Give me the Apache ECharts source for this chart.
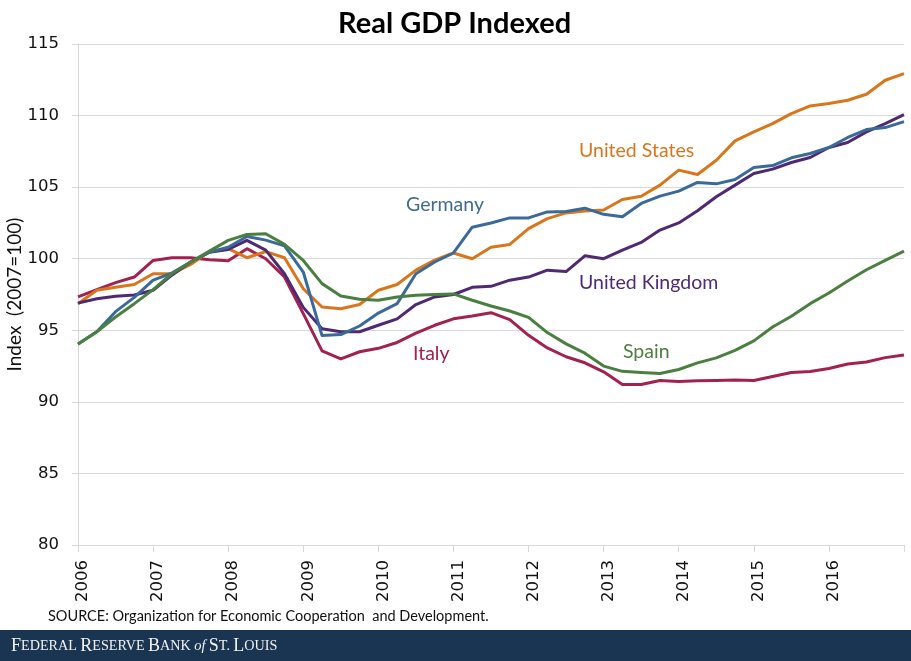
<!DOCTYPE html>
<html><head><meta charset="utf-8">
<style>html,body{margin:0;padding:0;background:#fff}#c{width:911px;height:661px}</style>
<script src="https://cdn.jsdelivr.net/npm/echarts@6/dist/echarts.min.js"></script>
</head><body><div id="c"></div>
<script>
const years=[2006,2007,2008,2009,2010,2011,2012,2013,2014,2015,2016,2017];
const categories=[];years.forEach(y=>{for(let q=1;q<=4;q++){if(y<2017||q===1)categories.push(y+'Q'+q);}});
const yTicks=[80,85,90,95,100,105,110,115];
const unitedStates=[96.86,97.8,98.0,98.2,98.95,98.95,99.6,100.5,100.7,100.07,100.5,100.07,97.9,96.63,96.5,96.8,97.8,98.2,99.2,99.9,100.4,100.0,100.8,101.0,102.1,102.8,103.2,103.33,103.4,104.14,104.36,105.14,106.19,105.88,106.88,108.23,108.86,109.44,110.14,110.67,110.84,111.07,111.49,112.47,112.93];
const germany=[94.05,94.9,96.3,97.3,98.5,99.0,99.77,100.45,100.8,101.55,101.3,100.9,99.07,94.63,94.7,95.3,96.2,96.86,98.95,99.77,100.4,102.2,102.5,102.85,102.85,103.27,103.3,103.53,103.1,102.93,103.86,104.37,104.72,105.33,105.23,105.53,106.37,106.51,107.05,107.35,107.77,108.47,109.02,109.16,109.58];
const unitedKingdom=[96.9,97.2,97.37,97.47,97.8,98.85,99.77,100.45,100.65,101.28,100.6,98.95,96.6,95.1,94.9,94.9,95.35,95.8,96.8,97.33,97.5,98.0,98.07,98.5,98.72,99.2,99.1,100.2,100.0,100.6,101.14,102.0,102.5,103.35,104.33,105.14,105.95,106.26,106.72,107.07,107.77,108.12,108.86,109.44,110.07];
const italy=[97.33,97.84,98.33,98.72,99.88,100.07,100.07,99.93,99.86,100.7,100.0,98.72,96.16,93.56,93.0,93.5,93.74,94.15,94.8,95.35,95.8,96.0,96.23,95.74,94.65,93.77,93.15,92.73,92.1,91.22,91.21,91.49,91.42,91.47,91.49,91.53,91.49,91.77,92.05,92.12,92.33,92.65,92.79,93.09,93.28];
const spain=[94.02,94.9,95.93,96.86,97.84,98.95,99.77,100.53,101.28,101.7,101.74,101.0,99.88,98.26,97.4,97.17,97.1,97.33,97.45,97.5,97.54,97.1,96.7,96.35,95.9,94.84,94.05,93.4,92.5,92.13,92.05,91.98,92.26,92.72,93.07,93.6,94.26,95.23,95.98,96.86,97.6,98.44,99.23,99.88,100.53];
const names=['Italy','United States','United Kingdom','Germany','Spain'];
const values=[italy,unitedStates,unitedKingdom,germany,spain];
const colors=['#a3214f','#d9761c','#4f2a73','#3a6a99','#4a7f3f'];
const labelFont='Lato, "Open Sans", sans-serif';
const annotations=[
 {t:'United States',x:579,y:151,c:'#d9761c'},
 {t:'Germany',x:406,y:205,c:'#3f6b96'},
 {t:'United Kingdom',x:579,y:283,c:'#4f2a73'},
 {t:'Italy',x:413,y:354,c:'#a3214f'},
 {t:'Spain',x:623,y:352,c:'#4a7f3f'}];
const chart=echarts.init(document.getElementById('c'),null,{renderer:'canvas'});
chart.setOption({
 animation:false,backgroundColor:'#fff',
 title:{text:'Real GDP Indexed',left:333,top:4,textStyle:{fontFamily:labelFont,fontSize:29,fontWeight:'bold',color:'#000'}},
 grid:{left:78,right:7,top:44,bottom:116,containLabel:false,outerBoundsMode:'none'},
 xAxis:{type:'category',boundaryGap:false,data:categories,
  axisLine:{lineStyle:{color:'#d9d9d9',width:1}},
  axisTick:{interval:3,length:7,lineStyle:{color:'#d9d9d9'}},
  axisLabel:{interval:3,rotate:90,margin:15,verticalAlign:'top',lineHeight:10,color:'#111',fontFamily:'"DejaVu Sans"',fontSize:16.5,
   formatter:v=>v.startsWith('2017')?'':v.slice(0,4)},
  splitLine:{show:false}},
 yAxis:{type:'value',min:yTicks[0],max:yTicks[yTicks.length-1],interval:5,
  name:'Index  (2007=100)',nameLocation:'middle',nameGap:54,nameRotate:90,nameMoveOverlap:false,
  nameTextStyle:{color:'#111',fontFamily:labelFont,fontSize:19},
  axisLine:{show:true,lineStyle:{color:'#d9d9d9'}},axisTick:{show:true,length:6,lineStyle:{color:'#d9d9d9'}},
  axisLabel:{margin:19,color:'#111',fontFamily:'"DejaVu Sans"',fontSize:16.5},
  splitLine:{show:true,lineStyle:{color:'#d9d9d9',width:1}}},
 series:names.map((n,i)=>({name:n,type:'line',data:values[i],showSymbol:false,smooth:false,
  lineStyle:{color:colors[i],width:3,join:'round'},itemStyle:{color:colors[i]}})),
 graphic:[
  {type:'rect',shape:{x:0,y:630,width:911,height:31},style:{fill:'#1a3552'},silent:true},
  {type:'text',x:11,y:646,style:{
    text:'{a|F}{b|EDERAL} {a|R}{b|ESERVE} {a|B}{b|ANK} {i|of} {a|S}{b|T.} {a|L}{b|OUIS}',
    verticalAlign:'middle',fill:'#f2f2f2',
    rich:{a:{fontFamily:'"Liberation Serif"',fontSize:18,fill:'#f2f2f2'},
     b:{fontFamily:'"Liberation Serif"',fontSize:14.2,fill:'#f2f2f2'},
     i:{fontFamily:'"Liberation Serif"',fontStyle:'italic',fontSize:14.5,fill:'#f2f2f2'}}}},
  {type:'text',x:48,y:616,style:{text:'SOURCE: Organization for Economic Cooperation  and Development.',
    font:'14.5px '+labelFont,fill:'#111',verticalAlign:'middle'}},
  ...annotations.map(a=>({type:'text',x:a.x,y:a.y,style:{text:a.t,font:'19.5px '+labelFont,fill:a.c,verticalAlign:'middle'}}))
 ]
});
</script></body></html>
